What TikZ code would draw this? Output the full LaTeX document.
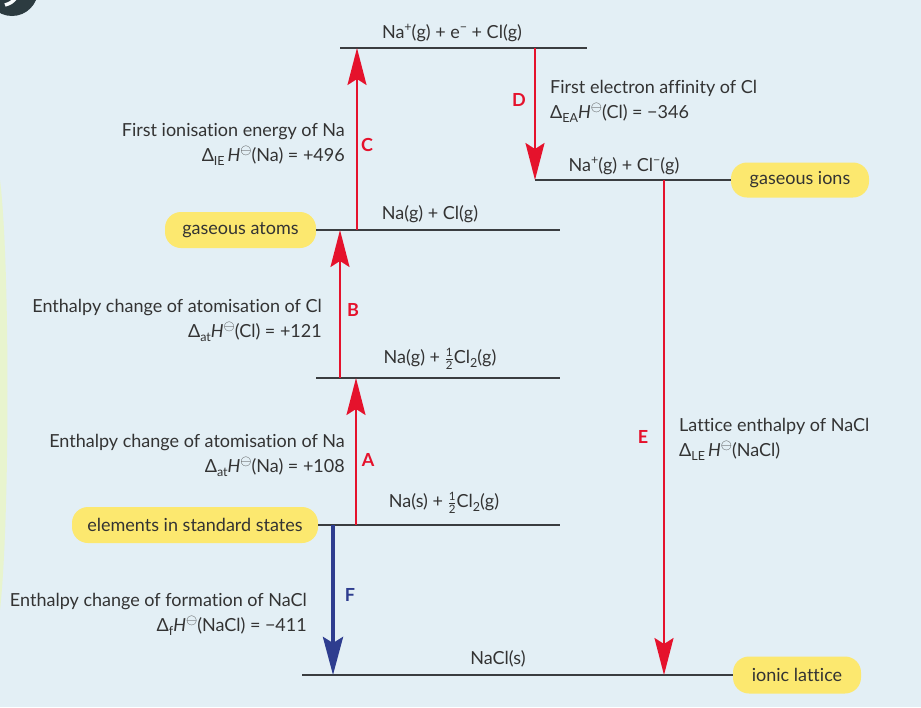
\documentclass[tikz,border=0pt]{standalone}
\usepackage{fontspec}
\setmainfont{Lato}[Ligatures=NoCommon]
\usetikzlibrary{arrows.meta}
\definecolor{bg}{HTML}{E3EFF5}
\definecolor{glow}{HTML}{E8F4CE}
\definecolor{darkc}{HTML}{2C3B40}
\definecolor{txt}{HTML}{333333}
\definecolor{lvl}{HTML}{3A3D40}
\definecolor{redc}{HTML}{E5122C}
\definecolor{bluec}{HTML}{2E3D8F}
\definecolor{yel}{HTML}{FCE86F}
\newcommand{\smallfs}{\fontsize{12.5}{12.5}\selectfont}
\newcommand{\Dl}[1]{Δ\raisebox{-0.45ex}{\smallfs #1}}
\newcommand{\Hstd}{\textit{H}\raisebox{0.75ex}{\fontsize{13.5}{13.5}\selectfont$\ominus$}}
\newcommand{\halff}{\ensuremath{\frac{\mbox{\fontsize{11.5}{11.5}\selectfont 1}}{\mbox{\fontsize{11.5}{11.5}\selectfont 2}}}}
\newcommand{\sps}[1]{\raisebox{0.7ex}{\smallfs #1}}
\newcommand{\sbs}[1]{\raisebox{-0.4ex}{\smallfs #1}}
\begin{document}
\begin{tikzpicture}[x=1pt,y=-1pt,
  every node/.style={font=\fontsize{18}{25}\selectfont, text=txt},
  tag/.style={fill=yel, rounded corners=16, inner sep=0pt},
  level/.style={draw=lvl, line width=2},
  redarrow/.style={draw=redc, line width=2.2, -{Stealth[length=37pt,width=19pt,inset=6pt]}, fill=redc},
  bluearrow/.style={draw=bluec, line width=4, -{Stealth[length=38pt,width=20pt,inset=6pt]}, fill=bluec},
  letter/.style={font=\fontsize{18}{18}\selectfont\bfseries, text=redc},
  desc/.style={align=right, anchor=east, inner sep=0pt},
  descl/.style={align=left, anchor=west, inner sep=0pt}]
\useasboundingbox (0,0) rectangle (921,707);
\fill[bg] (0,0) rectangle (921,707);
\fill[glow] (0,180) .. controls (10,260) and (10,520) .. (0,610) -- cycle;
\begin{scope}
\clip (0,0) rectangle (921,707);
\fill[darkc] (12,-10) circle (26);
\draw[white!80!bg, line width=3.5] (5,5) .. controls (11,3) .. (17,-3);
\end{scope}

% boxes
\node[tag, minimum width=151, minimum height=36] (atoms) at (240.5,230) {gaseous atoms};
\node[tag, minimum width=138, minimum height=35] (ions) at (800,180) {gaseous ions};
\node[tag, minimum width=246, minimum height=36] (elem) at (195,525) {elements in standard states};
\node[tag, minimum width=128, minimum height=37] (latt) at (797,675) {ionic lattice};

% level lines
\coordinate (t1) at (340,48); \coordinate (t2) at (587,48);
\coordinate (i1) at (535,180);
\coordinate (g2) at (560,230);
\coordinate (h1) at (316,378); \coordinate (h2) at (560,378);
\coordinate (s2) at (560,525);
\coordinate (n1) at (302,675);
\draw[level] (t1) -- (t2);
\draw[level] (i1) -- (ions.west);
\draw[level] (atoms.east) -- (g2);
\draw[level] (h1) -- (h2);
\draw[level] (elem.east) -- (s2);
\draw[level] (n1) -- (latt.west);

% level texts
\node (tT) at (452,33) {Na\sps{+}(g) + e\sps{−} + Cl(g)};
\node (tI) at (624,166) {Na\sps{+}(g) + Cl\sps{−}(g)};
\node (tG) at (430,214) {Na(g) + Cl(g)};
\node (tH) at (440,359) {Na(g) + \halff Cl\sbs{2}(g)};
\node (tS) at (444,503) {Na(s) + \halff Cl\sbs{2}(g)};
\node (tN) at (498,659) {NaCl(s)};

% arrow end points
\coordinate (a0) at (356,525); \coordinate (a1) at (356,378);
\coordinate (b0) at (340,378); \coordinate (b1) at (340,230);
\coordinate (c0) at (357,230); \coordinate (c1) at (357,48);
\coordinate (d0) at (535,48);  \coordinate (d1) at (535,180);
\coordinate (e0) at (664,180); \coordinate (e1) at (664,675);
\coordinate (f0) at (333,525); \coordinate (f1) at (333,675);
\draw[redarrow] (a0) -- (a1);
\draw[redarrow] (b0) -- (b1);
\draw[redarrow] (c0) -- (c1);
\draw[redarrow] (d0) -- (d1);
\draw[redarrow] (e0) -- (e1);
\draw[bluearrow] (f0) -- (f1);

% letters
\node[letter] (lA) at (368,460) {A};
\node[letter] (lB) at (353,310) {B};
\node[letter] (lC) at (367,145) {C};
\node[letter] (lD) at (519,100) {D};
\node[letter] (lE) at (643,437) {E};
\node[letter, text=bluec] (lF) at (350,595) {F};

% descriptions
\node[desc] (dC) at (345,144) {First ionisation energy of Na\\ \Dl{IE}\,\Hstd(Na) = +496};
\node[desc] (dB) at (322,320) {Enthalpy change of atomisation of Cl\\ \Dl{at}\Hstd(Cl) = +121};
\node[desc] (dA) at (345,455) {Enthalpy change of atomisation of Na\\ \Dl{at}\Hstd(Na) = +108};
\node[desc] (dF) at (307,614) {Enthalpy change of formation of NaCl\\ \Dl{f}\Hstd(NaCl) = −411};
\node[descl] (dD) at (550,101) {First electron affinity of Cl\\ \Dl{EA}\Hstd(Cl) = −346};
\node[descl] (dE) at (679,439) {Lattice enthalpy of NaCl\\ \Dl{LE}\,\Hstd(NaCl)};
\end{tikzpicture}
\end{document}
